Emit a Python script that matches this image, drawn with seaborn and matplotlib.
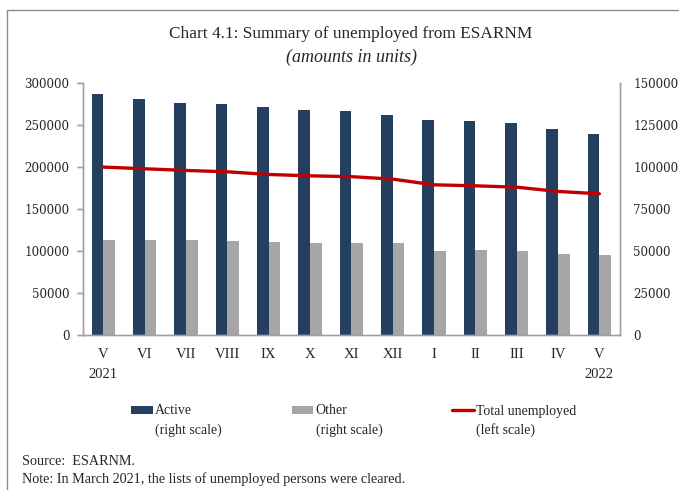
import numpy as np
import pandas as pd
import matplotlib
matplotlib.use("Agg")
import matplotlib.pyplot as plt
import seaborn as sns
from matplotlib.lines import Line2D
from matplotlib.patches import Patch
from matplotlib.ticker import StrMethodFormatter, MultipleLocator

# Monthly figures, May 2021 - May 2022
months = ["V", "VI", "VII", "VIII", "IX", "X", "XI", "XII", "I", "II", "III", "IV", "V"]
years = ["2021", "", "", "", "", "", "", "", "", "", "", "", "2022"]
active = [143300, 140500, 138300, 137700, 135500, 133700, 133100,
          131000, 127800, 127200, 126000, 122400, 119700]
other = [56600, 56600, 56600, 56000, 55400, 54800, 54600,
         54600, 50100, 50700, 50100, 48500, 47700]
total = [199900, 197900, 195900, 194300, 191100, 189500, 188500,
         185600, 178800, 177600, 176000, 170900, 168100]

series_names = ["Active", "Other"]
line_name = "Total unemployed"
colors = {"Active": "#243F60", "Other": "#A6A6A6"}
line_color = "#C00000"
spine_color = "#A0A0A0"

keys = [f"{m}-{i}" for i, m in enumerate(months)]
bars = pd.DataFrame({
    "period": keys * 2,
    "series": ["Active"] * len(keys) + ["Other"] * len(keys),
    "value": active + other,
})
line = pd.DataFrame({"pos": np.arange(len(keys)), "value": total})

sns.set_theme(style="white")
plt.rcParams["font.family"] = ["Liberation Serif", "DejaVu Serif"]

fig = plt.figure(figsize=(6.79, 4.9), dpi=100)
ax = fig.add_axes([0.1218, 0.3163, 0.7913, 0.5143])

# Bars on the right-hand scale
sns.barplot(data=bars, x="period", y="value", hue="series", order=keys,
            hue_order=series_names, palette=colors, width=0.56, gap=0,
            saturation=1, linewidth=0, legend=False, ax=ax)
ax.set_ylim(0, 150000)
ax.yaxis.tick_right()
ax.yaxis.set_major_locator(MultipleLocator(25000))
ax.yaxis.set_major_formatter(StrMethodFormatter("{x:.0f}"))

# Total on the left-hand scale
ax2 = ax.twinx()
sns.lineplot(data=line, x="pos", y="value", color=line_color, linewidth=2.4, ax=ax2)
ax2.yaxis.tick_left()
ax2.set_ylim(0, 300000)
ax2.yaxis.set_major_locator(MultipleLocator(50000))
ax2.yaxis.set_major_formatter(StrMethodFormatter("{x:.0f}"))

ax.set_xlim(-0.5, len(keys) - 0.5)
ax.set_xticks(np.arange(len(keys)))
ax.set_xticklabels([f"{m}\n{y}" for m, y in zip(months, years)],
                   fontsize=10.5, linespacing=1.65, va="top")
ax.set_xticks(np.arange(-0.5, len(keys)), minor=True)
ax.tick_params(axis="x", which="major", length=0, pad=9.5)
ax.tick_params(axis="x", which="minor", length=4, width=1, color=spine_color,
               direction="out")
ax.tick_params(axis="y", length=4, width=1, color=spine_color, direction="out",
               pad=5.5, labelsize=8.6, labelright=True, labelleft=False)
ax2.tick_params(axis="y", length=4, width=1, color=spine_color, direction="out",
                pad=5.5, labelsize=8.6, labelleft=True, labelright=False)
for lab in ax.get_yticklabels() + ax2.get_yticklabels():
    lab.set_fontfamily("DejaVu Serif")

for a in (ax, ax2):
    a.set_xlabel("")
    a.set_ylabel("")
    a.spines["top"].set_visible(False)
    for s in ("left", "right", "bottom"):
        a.spines[s].set_color(spine_color)
        a.spines[s].set_linewidth(1)
    a.grid(False)

# Titles
fig.text(0.517, 1 - 34 / 490, "Chart 4.1: Summary of unemployed from ESARNM",
         ha="center", va="center", fontsize=12.4)
fig.text(0.517, 1 - 57 / 490, "(amounts in units)", ha="center", va="center",
         fontsize=13, style="italic")

# Legend, one entry per column, each with a second line of text
entries = [
    (Patch(facecolor=colors["Active"], edgecolor="none"), "Active", "(right scale)", 131),
    (Patch(facecolor=colors["Other"], edgecolor="none"), "Other", "(right scale)", 291.5),
    (Line2D([], [], color=line_color, linewidth=2.4), line_name, "(left scale)", 452),
]
legends = []
for handle, label, sub, xpx in entries:
    leg = fig.legend(handles=[handle], labels=[label], loc="center left",
                     bbox_to_anchor=(xpx / 679, 1 - 411 / 490), frameon=False,
                     borderpad=0, borderaxespad=0, fontsize=10,
                     handlelength=1.58, handleheight=0.5, handletextpad=0.15)
    legends.append((leg, sub))

fig.canvas.draw()
W = fig.get_size_inches()[0] * fig.dpi
for leg, sub in legends:
    bb = leg.get_texts()[0].get_window_extent()
    fig.text(bb.x0 / W, 1 - 434 / 490, sub, ha="left", va="baseline", fontsize=10)

# Notes
fig.text(22 / 679, 1 - 465 / 490, "Source:  ESARNM.", ha="left", va="baseline", fontsize=10.2)
fig.text(22 / 679, 1 - 483 / 490,
         "Note: In March 2021, the lists of unemployed persons were cleared.",
         ha="left", va="baseline", fontsize=10.2)

# Frame lines
fig.add_artist(Line2D([6.5 / 679, 1], [1 - 10 / 490] * 2, color="#8C8C8C", linewidth=1))
fig.add_artist(Line2D([6.5 / 679] * 2, [0, 1 - 10 / 490], color="#8C8C8C", linewidth=1))

fig.savefig("out.png", dpi=100)
